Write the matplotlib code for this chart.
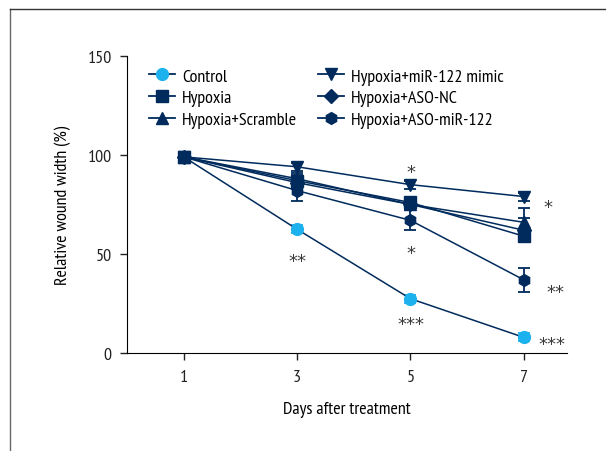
import matplotlib.pyplot as plt
from matplotlib.lines import Line2D

plt.rcParams['font.family'] = ['PT Sans Narrow', 'DejaVu Sans']

days = [1, 3, 5, 7]
labels = ['Control', 'Hypoxia', 'Hypoxia+Scramble',
          'Hypoxia+miR-122 mimic', 'Hypoxia+ASO-NC', 'Hypoxia+ASO-miR-122']
control = [99, 62.5, 27.5, 8]
hypoxia = [99, 87, 76, 59]
scramble = [99, 88, 75, 66]
mimic = [99, 94, 85, 79]
aso_nc = [99, 86, 75, 62]
aso_mir = [99, 82, 67, 37]
control_err = [1, 2, 2, 2]
hypoxia_err = [1, 3, 3, 3]
scramble_err = [1, 3, 3, 7]
mimic_err = [1, 2, 2, 2]
aso_nc_err = [1, 3, 3, 6]
aso_mir_err = [1, 5, 5, 6]

# significance marks: (day, y, text)
stars_x = [3, 5, 5, 5, 7.42, 7.55, 7.49]
stars_y = [49, 93.5, 53, 17, 76, 33, 7]
stars_txt = ['**', '*', '*', '***', '*', '**', '***']

navy = '#002b5c'
blue = '#1db1ed'

fig = plt.figure(figsize=(6.06, 4.52), dpi=100)
ax = fig.add_axes([0.2096, 0.2162, 0.7260, 0.6584])

series = [control, hypoxia, scramble, mimic, aso_nc, aso_mir]
errs = [control_err, hypoxia_err, scramble_err, mimic_err, aso_nc_err, aso_mir_err]
markers = ['o', 's', '^', 'v', 'D', 'h']
handles = []
for vals, err, m, lab in zip(series, errs, markers, labels):
    fc = blue if lab == 'Control' else navy
    ms = 7.5 if m == 'D' else 8.5
    ax.errorbar(days, vals, yerr=err, color=navy, ecolor=fc, lw=1.1,
                elinewidth=1.3, capsize=4, capthick=1.3, zorder=2)
    ax.plot(days, vals, ls='none', marker=m, ms=ms, mfc=fc, mec=fc, zorder=3)
    handles.append(Line2D([], [], color=navy, lw=1.3, marker=m, ms=ms,
                          mfc=fc, mec=fc))

# DejaVu asterisks sit high in the line, so shift them down a little
for x, y, t in zip(stars_x, stars_y, stars_txt):
    ax.text(x, y - 4.8, t, ha='center', va='baseline', fontsize=13,
            color='#3a3a3a', family='DejaVu Sans')

ax.set_xlim(0, 7.76)
ax.set_ylim(0, 150)
ax.set_xticks(days)
ax.set_yticks([0, 50, 100, 150])
ax.spines['top'].set_visible(False)
ax.spines['right'].set_visible(False)
ax.tick_params(labelsize=13, length=5, width=1, pad=6, colors='#222222')
ax.set_xlabel('Days after treatment', fontsize=13, labelpad=12)
ax.set_ylabel('Relative wound width (%)', fontsize=13, labelpad=12)

ax.legend(handles, labels, ncol=2, frameon=False, fontsize=13,
          loc='upper left', bbox_to_anchor=(0.012, 1.013), handlelength=1.45,
          handletextpad=0.4, columnspacing=1.15, labelspacing=0.28)

fig.add_artist(Line2D([10 / 606, 10 / 606], [0, 1 - 10 / 452], color='#666666', lw=1))
fig.add_artist(Line2D([10 / 606, 1], [1 - 10 / 452, 1 - 10 / 452], color='#333333', lw=1))

fig.savefig('out.png', dpi=100)
